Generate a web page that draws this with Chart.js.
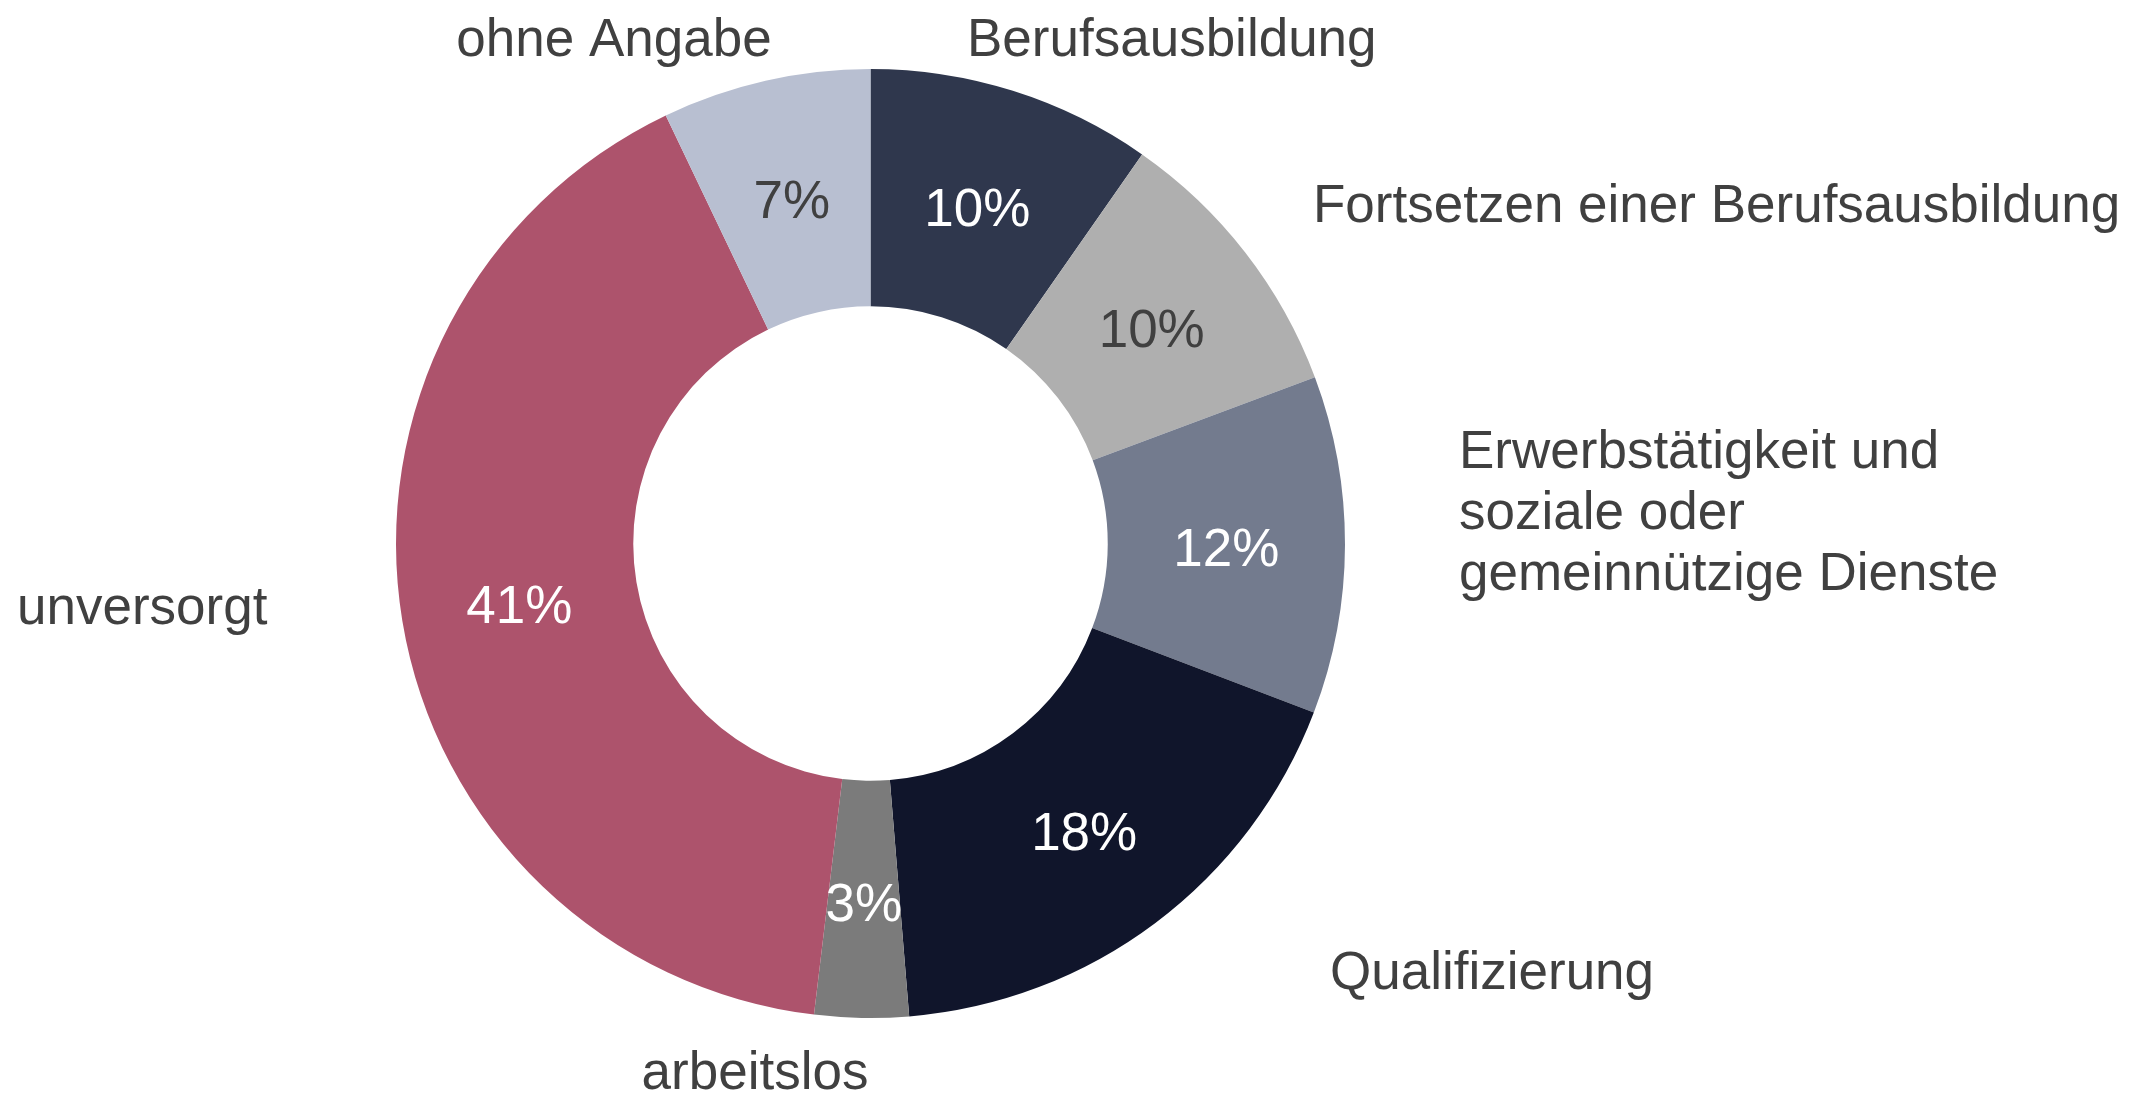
<!DOCTYPE html>
<html>
<head>
<meta charset="utf-8">
<script src="https://cdn.jsdelivr.net/npm/chart.js@4"></script>
<style>
  html, body { margin: 0; padding: 0; background: #fff; }
  #wrap { width: 2151px; height: 1107px; position: relative; }
</style>
</head>
<body>
<div id="wrap"><canvas id="donutChart"></canvas></div>
<script>
const categories = [
  'Berufsausbildung',
  'Fortsetzen einer Berufsausbildung',
  'Erwerbstätigkeit und\nsoziale oder\ngemeinnützige Dienste',
  'Qualifizierung',
  'arbeitslos',
  'unversorgt',
  'ohne Angabe'
];
const shares = [9.7, 9.6, 11.5, 17.9, 3.2, 41.0, 7.1];
const sliceColors = ['#2f374d', '#afafaf', '#737b8e', '#10152b', '#7b7b7b', '#ad536c', '#b8bfd1'];
const valueTextColors = ['#ffffff', '#404040', '#ffffff', '#ffffff', '#ffffff', '#ffffff', '#404040'];

// where the category names sit (x, first baseline, alignment)
const namePlacement = [
  { x: 967, y: 56, align: 'left' },
  { x: 1313, y: 222, align: 'left' },
  { x: 1459, y: 468, align: 'left' },
  { x: 1330, y: 989, align: 'left' },
  { x: 755, y: 1089, align: 'center' },
  { x: 17, y: 624, align: 'left' },
  { x: 614, y: 56, align: 'center' }
];

const FONT = '53px "Liberation Sans", Arial, sans-serif';

const labelPlugin = {
  id: 'sliceLabels',
  afterDatasetsDraw(chart) {
    const ctx = chart.ctx;
    const meta = chart.getDatasetMeta(0);
    ctx.save();
    ctx.font = FONT;
    // percentages in the ring
    ctx.textAlign = 'center';
    ctx.textBaseline = 'middle';
    meta.data.forEach((arc, i) => {
      const p = arc.getCenterPoint();
      ctx.fillStyle = valueTextColors[i];
      ctx.fillText(Math.round(shares[i]) + '%', p.x, p.y + 7);
    });
    // category names around it
    ctx.fillStyle = '#404040';
    ctx.textBaseline = 'alphabetic';
    categories.forEach((name, i) => {
      const pos = namePlacement[i];
      ctx.textAlign = pos.align;
      name.split('\n').forEach((line, k) => {
        ctx.fillText(line, pos.x, pos.y + k * 61);
      });
    });
    ctx.restore();
  }
};

new Chart(document.getElementById('donutChart').getContext('2d'), {
  type: 'doughnut',
  data: {
    labels: categories,
    datasets: [{
      data: shares,
      backgroundColor: sliceColors,
      borderWidth: 0
    }]
  },
  options: {
    responsive: true,
    maintainAspectRatio: false,
    animation: false,
    cutout: '50%',
    layout: { padding: { top: 69, bottom: 89, left: 396, right: 806 } },
    plugins: {
      legend: { display: false },
      tooltip: { enabled: false }
    }
  },
  plugins: [labelPlugin]
});
</script>
</body>
</html>
